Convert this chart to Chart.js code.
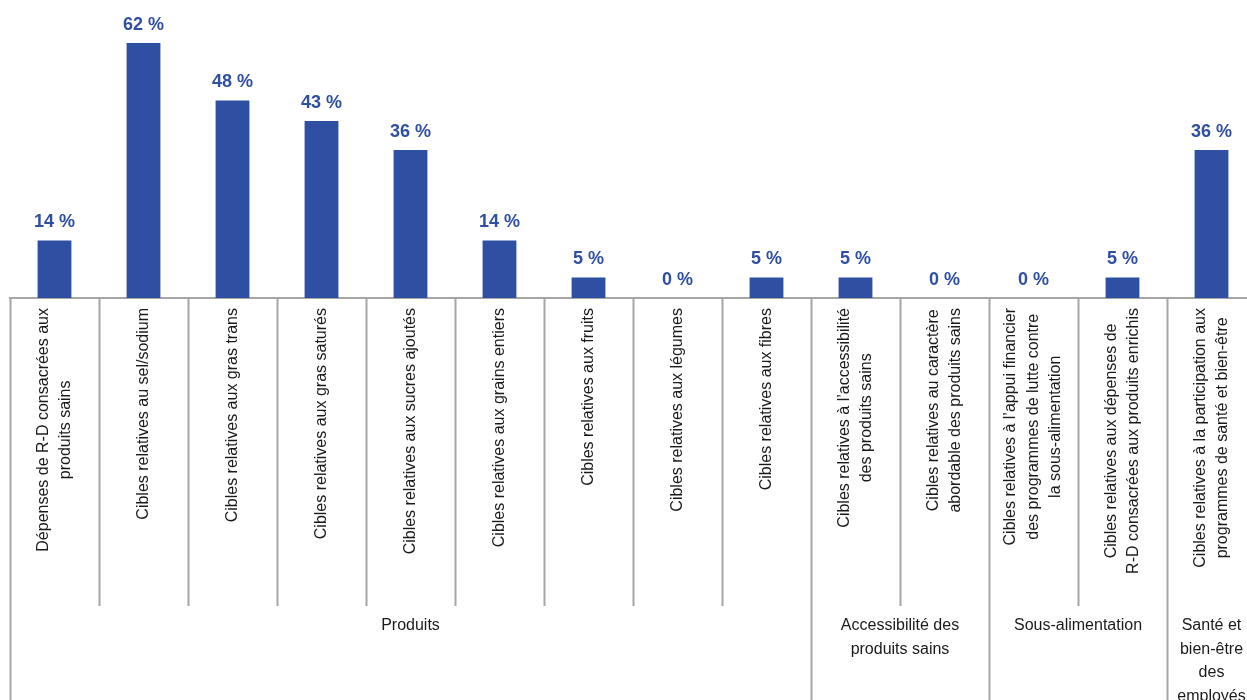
<!DOCTYPE html>
<html>
<head>
<meta charset="utf-8">
<script src="https://cdn.jsdelivr.net/npm/chart.js@4/dist/chart.umd.min.js"></script>
<style>
  html, body { margin:0; padding:0; background:#fff; overflow:hidden; }
  #wrap { width:1262px; height:700px; }
</style>
</head>
<body>
<div id="wrap"><canvas id="cibles" width="1262" height="700"></canvas></div>
<script>
// ---- DATA ----
const labels = [
  ['Dépenses de R-D consacrées aux', 'produits sains'],
  ['Cibles relatives au sel/sodium'],
  ['Cibles relatives aux gras trans'],
  ['Cibles relatives aux gras saturés'],
  ['Cibles relatives aux sucres ajoutés'],
  ['Cibles relatives aux grains entiers'],
  ['Cibles relatives aux fruits'],
  ['Cibles relatives aux légumes'],
  ['Cibles relatives aux fibres'],
  ['Cibles relatives à l\u2019accessibilité', 'des produits sains'],
  ['Cibles relatives au caractère', 'abordable des produits sains'],
  ['Cibles relatives à l\u2019appui financier', 'des programmes de lutte contre', 'la sous-alimentation'],
  ['Cibles relatives aux dépenses de', 'R-D consacrées aux produits enrichis'],
  ['Cibles relatives à la participation aux', 'programmes de santé et bien-être']
];
const values = [14, 62, 48, 43, 36, 14, 5, 0, 5, 5, 0, 0, 5, 36];

// groups: first category index, last category index, label lines
const groupNames = [
  ['Produits'],
  ['Accessibilité des', 'produits sains'],
  ['Sous-alimentation'],
  ['Santé et', 'bien-être', 'des', 'employés']
];
const groupStart = [0, 9, 11, 13];
const groupEnd = [8, 10, 12, 13];

const BLUE = '#2f4fa2';
const LINE = '#a6a6a6';
const FONT = '"Liberation Sans", Arial, sans-serif';

// separators, rotated category names and group names under the axis
const axisDeco = {
  id: 'axisDeco',
  afterDraw(chart) {
    const ctx = chart.ctx;
    const x = chart.scales.x;
    const base = chart.chartArea.bottom;
    const half = (x.getPixelForValue(1) - x.getPixelForValue(0)) / 2;

    ctx.save();
    ctx.strokeStyle = LINE;
    ctx.lineWidth = 2;
    for (let i = 0; i <= labels.length; i++) {
      const px = Math.round(x.getPixelForValue(i) - half) + 0.5;
      const isGroup = groupStart.includes(i) || i === labels.length;
      ctx.beginPath();
      ctx.moveTo(px, base);
      ctx.lineTo(px, isGroup ? 700 : 606);
      ctx.stroke();
    }

    // category names, reading bottom to top, anchored under the axis
    ctx.fillStyle = '#1a1a1a';
    ctx.font = '16px ' + FONT;
    ctx.textAlign = 'center';
    ctx.textBaseline = 'middle';
    labels.forEach((lines, i) => {
      const cx = x.getPixelForValue(i);
      const lh = 22.5;
      const widest = Math.max(...lines.map(l => ctx.measureText(l).width));
      ctx.save();
      ctx.translate(cx, base + 10 + widest / 2);
      ctx.rotate(-Math.PI / 2);
      lines.forEach((l, k) => {
        ctx.fillText(l, 0, (k - (lines.length - 1) / 2) * lh);
      });
      ctx.restore();
    });

    // group names
    groupNames.forEach((lines, g) => {
      const left = x.getPixelForValue(groupStart[g]) - half;
      const right = x.getPixelForValue(groupEnd[g]) + half;
      const cx = (left + right) / 2;
      lines.forEach((l, k) => ctx.fillText(l, cx, 626 + k * 23.5));
    });
    ctx.restore();
  },
  afterDatasetsDraw(chart) {
    const ctx = chart.ctx;
    const meta = chart.getDatasetMeta(0);
    ctx.save();
    ctx.fillStyle = BLUE;
    ctx.font = 'bold 18px ' + FONT;
    ctx.textAlign = 'center';
    ctx.textBaseline = 'middle';
    meta.data.forEach((bar, i) => {
      ctx.fillText(values[i] + ' %', bar.x, bar.y - 18);
    });
    ctx.restore();
  }
};

new Chart(document.getElementById('cibles'), {
  type: 'bar',
  data: {
    labels: labels,
    datasets: [{
      data: values,
      backgroundColor: BLUE,
      borderWidth: 0,
      barPercentage: 0.38,
      categoryPercentage: 1
    }]
  },
  options: {
    responsive: false,
    animation: false,
    layout: { padding: { left: 10, right: 6, top: 10, bottom: 402 } },
    plugins: { legend: { display: false }, tooltip: { enabled: false } },
    scales: {
      x: {
        grid: { display: false, drawTicks: false },
        ticks: { display: false },
        border: { display: true, color: LINE, width: 2 }
      },
      y: { display: false, min: 0, max: 70 }
    }
  },
  plugins: [axisDeco]
});
</script>
</body>
</html>
